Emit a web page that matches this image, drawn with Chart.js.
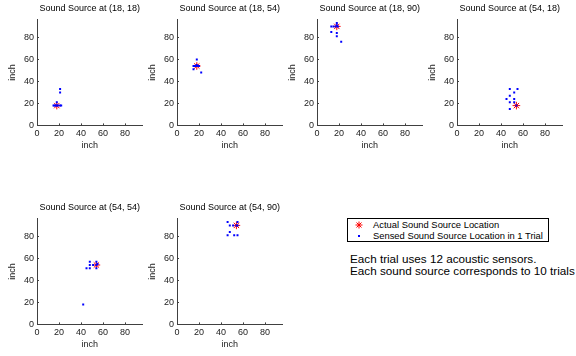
<!DOCTYPE html>
<html>
<head>
<meta charset="utf-8">
<script src="https://cdn.jsdelivr.net/npm/chart.js@4"></script>
<style>
  body { margin: 0; background: #fff; }
  #wrap { position: relative; width: 576px; height: 356px; overflow: hidden; font-family: "Liberation Sans", Arial, sans-serif; color: #000; }
  #wrap canvas { position: absolute; }
  #legend { position: absolute; left: 347px; top: 218px; width: 200px; height: 22px; border: 1px solid #000; font-size: 9.4px; }
  #legend .row { position: absolute; left: 0; height: 11px; line-height: 11px; white-space: nowrap; }
  #legend .mk { position: absolute; left: 7px; top: 2px; }
  #legend .tx { position: absolute; left: 25px; top: 0; }
  .note { position: absolute; left: 350px; font-size: 11.7px; line-height: 12px; white-space: nowrap; }
</style>
</head>
<body>
<div id="wrap">
  <div id="legend">
    <div class="row" style="top:0px"><svg class="mk" width="8" height="8"><g stroke="#ff0000" stroke-width="1"><line x1="4" y1="0.5" x2="4" y2="7.5"/><line x1="0.5" y1="4" x2="7.5" y2="4"/><line x1="1.5" y1="1.5" x2="6.5" y2="6.5"/><line x1="6.5" y1="1.5" x2="1.5" y2="6.5"/></g></svg><span class="tx">Actual Sound Source Location</span></div>
    <div class="row" style="top:11px"><svg class="mk" width="8" height="8"><rect x="3" y="3" width="2" height="2" fill="#0000ff"/></svg><span class="tx">Sensed Sound Source Location in 1 Trial</span></div>
  </div>
  <div class="note" style="top:252.6px">Each trial uses 12 acoustic sensors.</div>
  <div class="note" style="top:265px">Each sound source corresponds to 10 trials</div>
</div>
<script>
// actual source locations (inch)
const sourceX = [18, 18, 18, 54, 54, 54];
const sourceY = [18, 54, 90, 18, 54, 90];

// sensed locations, one list per source, 10 trials each
const sensed18_18 = [[15,18],[16,18],[17,18],[18,18],[19,18],[21,18],[22,18],[18,21],[21,30],[21,33]];
const sensed18_54 = [[15,54],[16,54],[17,54],[18,54],[19,54],[20,54],[15,51],[18,60],[22,48],[18,55]];
const sensed18_90 = [[13,90],[15,90],[17,90],[19,90],[18,93],[13,85],[18,84],[18,81],[22,76],[18,91]];
const sensed54_18 = [[48,33],[55,33],[52,30],[48,27],[45,24],[52,24],[48,21],[52,21],[48,15],[54,18]];
const sensed54_54 = [[48,57],[54,57],[48,54],[51,54],[54,54],[45,51],[48,51],[54,51],[42,18],[55,55]];
const sensed54_90 = [[46,93],[55,93],[48,90],[51,90],[55,90],[48,84],[46,81],[52,81],[55,81],[54,90]];
const allSensed = [sensed18_18, sensed18_54, sensed18_90, sensed54_18, sensed54_54, sensed54_90];

const tickValues = [0, 20, 40, 60, 80];
const axisMax = 96;

// axis origin of each subplot on the page
const axisLeft = [37, 177, 317, 457, 37, 177];
const canvasTop = [0, 0, 0, 0, 199, 199];

const FONT = "'Liberation Sans', Arial, sans-serif";
const AXIS_COLOR = '#404040';

// MATLAB style ticks pointing into the axes, and title centred over the axes
const matlabAxes = {
  id: 'matlabAxes',
  afterDraw(chart, args, opts) {
    const { ctx, chartArea, scales } = chart;
    ctx.save();
    ctx.strokeStyle = AXIS_COLOR;
    ctx.lineWidth = 1;
    ctx.beginPath();
    tickValues.forEach(v => {
      const px = Math.round(scales.x.getPixelForValue(v)) + 0.5;
      ctx.moveTo(px, chartArea.bottom);
      ctx.lineTo(px, chartArea.bottom - 2);
      const py = Math.round(scales.y.getPixelForValue(v)) + 0.5;
      ctx.moveTo(chartArea.left, py);
      ctx.lineTo(chartArea.left + 2, py);
    });
    ctx.stroke();
    ctx.fillStyle = '#000';
    ctx.font = '9px ' + FONT;
    ctx.textAlign = 'center';
    ctx.textBaseline = 'middle';
    ctx.fillText(opts.text, (chartArea.left + chartArea.right) / 2, 8.4);
    ctx.restore();
  }
};

function axis(isX) {
  return {
    type: 'linear',
    min: 0,
    max: axisMax,
    afterBuildTicks: s => { s.ticks = tickValues.map(v => ({ value: v })); },
    afterFit: s => { if (isX) s.height = 34.6; else s.width = 37; },
    grid: { display: false, drawTicks: false },
    border: { display: true, color: AXIS_COLOR, width: 1 },
    ticks: { color: '#222', font: { family: FONT, size: 9 }, padding: 3 },
    title: {
      display: true, text: 'inch', color: '#222',
      font: { family: FONT, size: 9 },
      padding: isX ? { top: 0, bottom: 9 } : { top: 7.6, bottom: 0 }
    }
  };
}

allSensed.forEach((pts, i) => {
  const cv = document.createElement('canvas');
  cv.width = 150; cv.height = 160;
  cv.style.left = (axisLeft[i] - 37) + 'px';
  cv.style.top = canvasTop[i] + 'px';
  cv.style.width = '150px'; cv.style.height = '160px';
  document.getElementById('wrap').appendChild(cv);

  new Chart(cv, {
    type: 'scatter',
    data: {
      datasets: [
        {
          label: 'Sensed Sound Source Location in 1 Trial',
          data: pts.map(p => ({ x: p[0], y: p[1] })),
          pointStyle: 'rect', pointRadius: 1.4, borderWidth: 0, backgroundColor: '#0000ff'
        },
        {
          label: 'Actual Sound Source Location',
          data: [{ x: sourceX[i], y: sourceY[i] }],
          pointStyle: 'star', pointRadius: 3.8, borderColor: '#ff0000', backgroundColor: '#ff0000', borderWidth: 1
        }
      ]
    },
    options: {
      responsive: false,
      animation: false,
      layout: { padding: { left: 0, right: 7.4, top: 19.8, bottom: 0 } },
      plugins: {
        legend: { display: false },
        tooltip: { enabled: false },
        title: { display: false },
        matlabAxes: { text: 'Sound Source at (' + sourceX[i] + ', ' + sourceY[i] + ')' }
      },
      scales: { x: axis(true), y: axis(false) }
    },
    plugins: [matlabAxes]
  });
});
</script>
</body>
</html>
